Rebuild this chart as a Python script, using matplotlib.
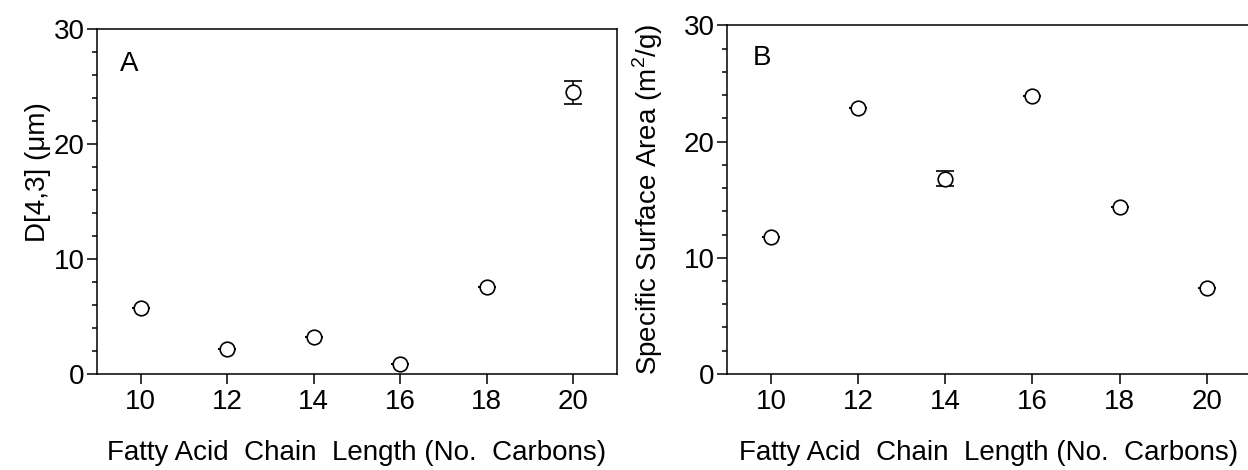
import matplotlib.pyplot as plt
from matplotlib.ticker import MultipleLocator

# chain length (number of carbons)
carbons = [10, 12, 14, 16, 18, 20]

# panel A: volume-weighted mean diameter D[4,3] (um)
d43 = [5.75, 2.2, 3.25, 0.9, 7.6, 24.5]
d43_err = [0, 0, 0, 0, 0, 1.0]

# panel B: specific surface area (m2/g)
ssa = [11.8, 22.9, 16.8, 23.9, 14.4, 7.4]
ssa_err = [0, 0, 0.65, 0, 0, 0]

plt.rcParams['font.family'] = ['Liberation Sans', 'DejaVu Sans']
plt.rcParams['mathtext.fontset'] = 'custom'
plt.rcParams['mathtext.rm'] = 'Liberation Sans'
plt.rcParams['font.size'] = 20

fig = plt.figure(figsize=(12.48, 4.70), dpi=100)
axA = fig.add_axes([0.0780, 0.2043, 0.4160, 0.7334])
axB = fig.add_axes([0.5828, 0.2043, 0.4190, 0.7419])


def style(ax):
    ax.set_xlim(9, 21)
    ax.set_ylim(0, 30)
    ax.xaxis.set_major_locator(MultipleLocator(2))
    ax.yaxis.set_major_locator(MultipleLocator(10))
    ax.yaxis.set_minor_locator(MultipleLocator(2))
    ax.tick_params(axis='both', which='major', direction='out', length=7,
                   width=1.1, labelsize=20)
    ax.tick_params(axis='y', which='minor', direction='out', length=3.5, width=1.1)
    ax.tick_params(axis='x', pad=4)
    ax.tick_params(axis='y', pad=2)
    ax.tick_params(top=False, right=False)
    for s in ax.spines.values():
        s.set_linewidth(1.1)
    ax.set_xlabel('Fatty Acid  Chain  Length (No.  Carbons)', fontsize=20, labelpad=18)


for ax, y, e in [(axA, d43, d43_err), (axB, ssa, ssa_err)]:
    ax.errorbar(carbons, y, yerr=e, fmt='o', mfc='white', mec='black', mew=1.2,
                ms=10.5, ecolor='black', elinewidth=1.1, capsize=6.5, capthick=1.1)
    style(ax)

axA.set_ylabel('D[4,3] (μm)', fontsize=20)
axA.yaxis.set_label_coords(-0.090, 0.587)
axB.set_ylabel('Specific Surface Area (m$^2$/g)', fontsize=20)
axB.yaxis.set_label_coords(-0.120, 0.50)
axB.spines['right'].set_visible(False)

axA.text(0.044, 0.90, 'A', transform=axA.transAxes, fontsize=20, va='center')
axB.text(0.048, 0.906, 'B', transform=axB.transAxes, fontsize=20, va='center')

fig.savefig('out.png', dpi=100)
